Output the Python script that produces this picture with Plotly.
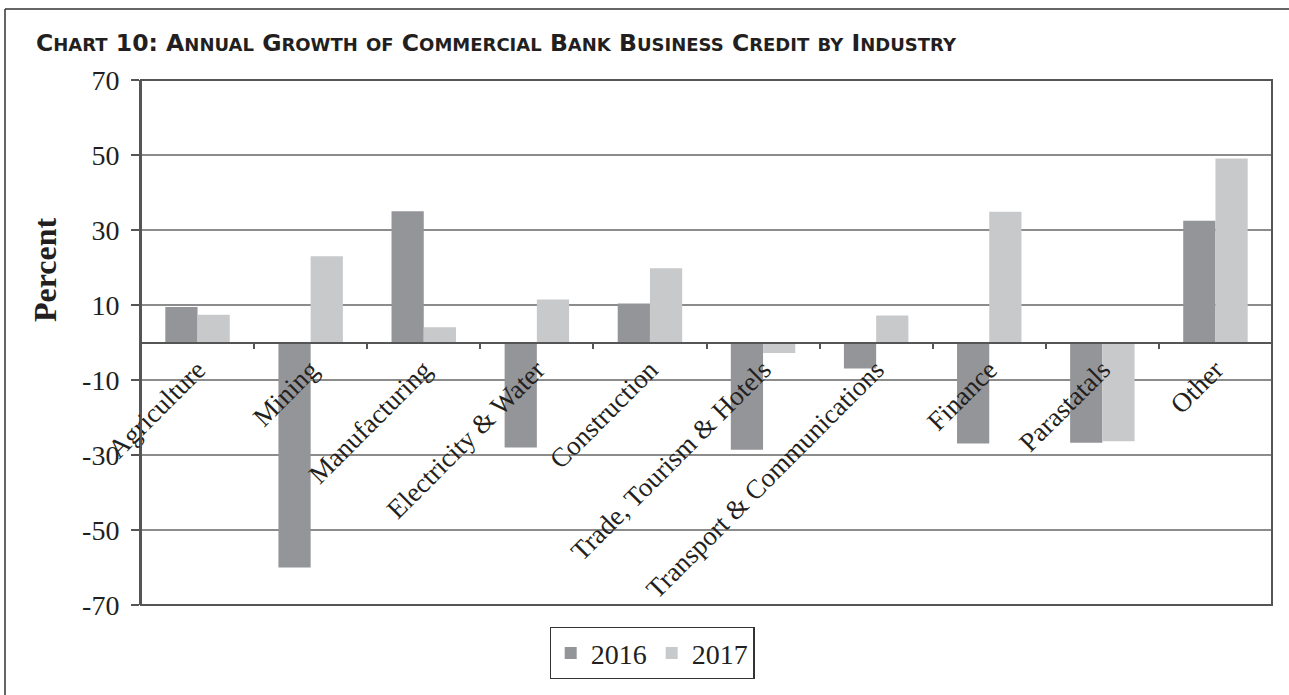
import plotly.graph_objects as go

# Industry categories and annual growth (%) of commercial bank business credit
industries = [
    "Agriculture", "Mining", "Manufacturing", "Electricity & Water",
    "Construction", "Trade, Tourism & Hotels", "Transport & Communications",
    "Finance", "Parastatals", "Other",
]
growth_2016 = [9.5, -60.0, 35.0, -28.0, 10.4, -28.6, -6.9, -26.9, -26.7, 32.5]
growth_2017 = [7.4, 23.0, 4.1, 11.5, 19.8, -2.8, 7.2, 34.9, -26.3, 49.1]
y_ticks = [-70, -50, -30, -10, 10, 30, 50, 70]

title_text = "Chart 10: Annual Growth of Commercial Bank Business Credit by Industry"

C_2016 = "#949598"
C_2017 = "#c8c9cb"
GRID = "#8c8c8c"
AXIS = "#555555"

W, H = 1289, 695
L, R, T, B = 141, 17, 80, 90
PW, PH = W - L - R, H - T - B


def px(x):
    return (x - L) / PW


def py(y):
    return (H - B - y) / PH


def small_caps(text, big=23.5, small=18):
    out = []
    for word in text.split(" "):
        lower_word = word.lower() in ("of", "by")
        parts = []
        for i, ch in enumerate(word):
            if ch.isalpha() and (i > 0 or lower_word):
                parts.append(f'<span style="font-size:{small}px">{ch.upper()}</span>')
            else:
                parts.append(f'<span style="font-size:{big}px">{ch.upper()}</span>')
        out.append("".join(parts))
    return " ".join(out)


fig = go.Figure()
fig.add_trace(go.Bar(x=industries, y=growth_2016, name="2016",
                     marker=dict(color=C_2016, line=dict(width=0))))
fig.add_trace(go.Bar(x=industries, y=growth_2017, name="2017",
                     marker=dict(color=C_2017, line=dict(width=0))))

fig.update_layout(
    width=W, height=H,
    margin=dict(l=L, r=R, t=T, b=B),
    paper_bgcolor="white", plot_bgcolor="white",
    barmode="group", bargap=0.43, bargroupgap=0,
    font=dict(family="Liberation Serif, Times New Roman, serif", color="#231f20"),
    showlegend=True,
    legend=dict(
        orientation="h", x=px(652), xanchor="center", y=py(627), yanchor="top",
        bordercolor="#333333", borderwidth=1.2,
        font=dict(size=28, family="Liberation Serif, serif"),
        itemsizing="constant", traceorder="normal", itemwidth=30,
    ),
)

fig.update_yaxes(
    range=[-70, 70], tickvals=y_ticks, ticktext=[str(v) for v in y_ticks],
    showgrid=True, gridcolor=GRID, gridwidth=1.5,
    zeroline=True, zerolinecolor=AXIS, zerolinewidth=1.5,
    showline=True, linecolor=AXIS, linewidth=2,
    ticks="outside", ticklen=8, tickcolor=AXIS, tickwidth=1.5,
    tickfont=dict(size=28, family="Liberation Serif, serif", color="#231f20"),
    ticklabelstandoff=6,
)

fig.update_xaxes(
    anchor="free", position=0.5,
    showline=True, linecolor=AXIS, linewidth=1.5,
    ticks="outside", tickson="boundaries", ticklen=6, tickcolor=AXIS, tickwidth=1.5,
    tickangle=-45, showgrid=False,
    tickfont=dict(size=27, family="Liberation Serif, serif", color="#231f20"),
)

# Plot-area border
fig.add_shape(type="rect", xref="paper", yref="paper", x0=0, x1=1, y0=0, y1=1,
              line=dict(color=AXIS, width=2), layer="above")

# Outer frame (top and left edges)
fig.add_shape(type="line", xref="paper", yref="paper",
              x0=px(5), x1=px(W + 5), y0=py(9), y1=py(9),
              line=dict(color="#333333", width=1.5))
fig.add_shape(type="line", xref="paper", yref="paper",
              x0=px(5), x1=px(5), y0=py(9), y1=py(H + 5),
              line=dict(color="#333333", width=1.5))

# Chart title
fig.add_annotation(
    text="<b>" + small_caps(title_text) + "</b>",
    xref="paper", yref="paper", x=px(34), y=py(59),
    xanchor="left", yanchor="bottom", showarrow=False,
    font=dict(family="DejaVu Sans, Liberation Sans, sans-serif", size=23.5, color="#231f20"),
)

# Y-axis title
fig.add_annotation(
    text="<b>Percent</b>", xref="paper", yref="paper",
    x=px(45), y=py(270), xanchor="center", yanchor="middle",
    textangle=-90, showarrow=False,
    font=dict(size=32, family="Liberation Serif, serif", color="#231f20"),
)

fig.write_html("out.html")
